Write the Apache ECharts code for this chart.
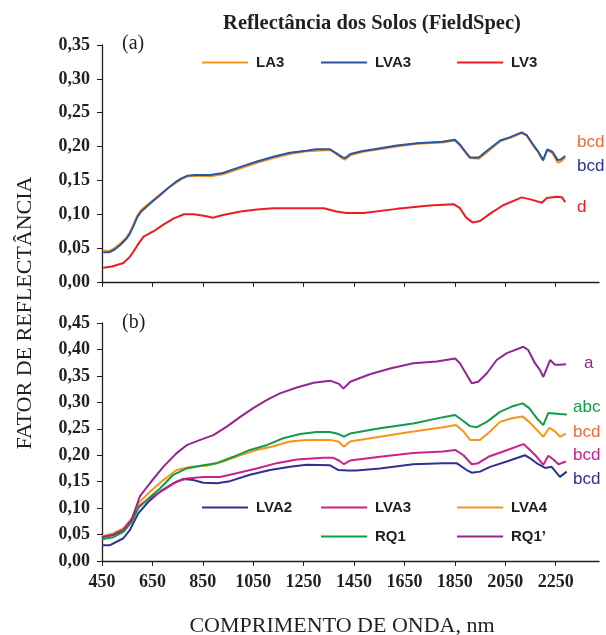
<!DOCTYPE html>
<html lang="pt">
<head>
<meta charset="UTF-8">
<title>Reflectância dos Solos (FieldSpec)</title>
<style>
  html, body { margin: 0; padding: 0; background: #fff; }
  #main { width: 606px; height: 635px; }
</style>
</head>
<body>
<div id="main"></div>
<script src="https://cdn.jsdelivr.net/npm/echarts@6/dist/echarts.min.js"></script>
<script>
// comprimento de onda (nm) x fator de reflectância
var xTicks = [450, 650, 850, 1050, 1250, 1450, 1650, 1850, 2050, 2250];

// painel (a)
var LA3_a = [[455,0.046],[480,0.046],[500,0.050],[520,0.056],[545,0.065],[560,0.073],[575,0.085],[590,0.098],[605,0.106],[620,0.111],[650,0.120],[680,0.129],[710,0.138],[740,0.146],[765,0.152],[790,0.156],[820,0.157],[880,0.156],[930,0.159],[1000,0.168],[1065,0.176],[1130,0.183],[1195,0.189],[1260,0.193],[1300,0.194],[1355,0.195],[1380,0.189],[1405,0.182],[1415,0.181],[1435,0.187],[1480,0.192],[1530,0.195],[1620,0.200],[1700,0.204],[1800,0.206],[1850,0.209],[1870,0.202],[1897,0.189],[1910,0.183],[1945,0.182],[1975,0.191],[2030,0.208],[2070,0.213],[2115,0.220],[2135,0.216],[2160,0.202],[2180,0.192],[2200,0.179],[2205,0.178],[2217,0.195],[2238,0.190],[2258,0.176],[2270,0.178],[2288,0.184]];
var LVA3_a = [[455,0.044],[480,0.044],[500,0.048],[520,0.054],[545,0.063],[560,0.071],[575,0.083],[590,0.096],[605,0.104],[620,0.109],[650,0.119],[680,0.128],[710,0.138],[740,0.147],[765,0.153],[790,0.157],[820,0.158],[880,0.158],[930,0.161],[1000,0.170],[1065,0.178],[1130,0.185],[1195,0.191],[1260,0.194],[1300,0.196],[1355,0.196],[1380,0.190],[1405,0.184],[1415,0.183],[1435,0.189],[1480,0.193],[1530,0.196],[1620,0.2015],[1700,0.205],[1800,0.207],[1850,0.210],[1870,0.203],[1897,0.190],[1910,0.184],[1945,0.184],[1975,0.193],[2030,0.209],[2070,0.214],[2115,0.221],[2135,0.217],[2160,0.203],[2180,0.193],[2200,0.180],[2205,0.179],[2217,0.196],[2238,0.192],[2258,0.180],[2270,0.181],[2288,0.186]];
var LV3_a = [[455,0.021],[490,0.023],[535,0.028],[560,0.037],[575,0.045],[590,0.054],[615,0.067],[655,0.075],[695,0.085],[735,0.094],[775,0.100],[815,0.100],[865,0.097],[890,0.095],[930,0.099],[1000,0.104],[1065,0.107],[1130,0.109],[1330,0.109],[1380,0.104],[1420,0.102],[1490,0.102],[1620,0.108],[1750,0.113],[1845,0.115],[1870,0.109],[1895,0.095],[1920,0.088],[1950,0.090],[1990,0.101],[2040,0.113],[2115,0.125],[2150,0.122],[2195,0.117],[2215,0.124],[2255,0.126],[2275,0.125],[2288,0.118]];

// painel (b)
var LVA2_b = [[450,0.030],[482,0.030],[535,0.043],[561,0.059],[594,0.090],[634,0.112],[680,0.131],[733,0.147],[773,0.155],[812,0.153],[852,0.148],[905,0.147],[958,0.151],[1037,0.163],[1117,0.172],[1196,0.178],[1262,0.182],[1355,0.181],[1388,0.172],[1427,0.171],[1460,0.171],[1553,0.175],[1685,0.183],[1804,0.185],[1857,0.185],[1897,0.172],[1917,0.167],[1950,0.169],[1990,0.178],[2056,0.188],[2128,0.200],[2155,0.192],[2181,0.183],[2208,0.176],[2234,0.178],[2267,0.159],[2294,0.169]];
var LVA3_b = [[450,0.046],[495,0.049],[535,0.059],[568,0.078],[594,0.103],[640,0.119],[693,0.134],[746,0.150],[786,0.156],[852,0.159],[918,0.159],[984,0.166],[1064,0.175],[1143,0.185],[1223,0.192],[1328,0.195],[1368,0.195],[1390,0.190],[1410,0.183],[1434,0.190],[1553,0.197],[1685,0.204],[1804,0.207],[1851,0.210],[1884,0.200],[1917,0.183],[1943,0.185],[1983,0.197],[2042,0.207],[2122,0.221],[2148,0.210],[2175,0.197],[2201,0.182],[2221,0.199],[2241,0.192],[2261,0.183],[2291,0.188]];
var LVA4_b = [[450,0.047],[495,0.052],[535,0.062],[568,0.081],[594,0.109],[640,0.131],[693,0.153],[746,0.172],[799,0.178],[865,0.180],[931,0.188],[998,0.200],[1064,0.210],[1130,0.217],[1195,0.226],[1262,0.229],[1355,0.229],[1388,0.226],[1410,0.216],[1434,0.226],[1553,0.235],[1685,0.245],[1804,0.253],[1855,0.257],[1884,0.245],[1910,0.229],[1950,0.229],[1990,0.245],[2029,0.263],[2076,0.270],[2119,0.273],[2145,0.263],[2175,0.248],[2201,0.235],[2225,0.252],[2247,0.245],[2267,0.235],[2291,0.241]];
var RQ1_b = [[450,0.041],[495,0.045],[535,0.055],[568,0.074],[594,0.100],[634,0.118],[680,0.137],[733,0.163],[786,0.175],[852,0.181],[905,0.185],[971,0.197],[1037,0.210],[1103,0.219],[1169,0.232],[1236,0.240],[1302,0.244],[1355,0.244],[1388,0.240],[1410,0.235],[1434,0.241],[1553,0.251],[1685,0.260],[1804,0.272],[1851,0.276],[1877,0.267],[1910,0.255],[1937,0.253],[1977,0.263],[2029,0.282],[2076,0.292],[2119,0.298],[2145,0.289],[2175,0.270],[2201,0.257],[2221,0.280],[2267,0.278],[2294,0.277]];
var RQ1p_b = [[450,0.045],[490,0.049],[535,0.059],[568,0.078],[600,0.122],[640,0.147],[693,0.178],[746,0.204],[786,0.219],[840,0.229],[892,0.238],[945,0.254],[1000,0.273],[1050,0.289],[1103,0.304],[1156,0.317],[1223,0.328],[1290,0.337],[1355,0.341],[1390,0.335],[1408,0.326],[1435,0.339],[1513,0.353],[1593,0.364],[1685,0.374],[1778,0.377],[1851,0.383],[1870,0.374],[1897,0.352],[1917,0.336],[1943,0.339],[1977,0.355],[2016,0.380],[2056,0.393],[2122,0.405],[2141,0.399],[2168,0.374],[2188,0.361],[2201,0.348],[2228,0.380],[2247,0.371],[2267,0.371],[2291,0.372]];

// letras do teste de médias
var lettersA = ['bcd', 'bcd', 'd'];
var lettersB = ['a', 'abc', 'bcd', 'bcd', 'bcd'];

var SERIF = '"Liberation Serif", "Times New Roman", serif';
var SANS = '"Liberation Sans", Arial, sans-serif';
var INK = '#231f20';

var C = {
  orange: '#f7941d', blue: '#2a55a4', red: '#ed1c24',
  navy: '#2e3192', magenta: '#c9218e', green: '#0f9d4a', purple: '#92278f',
  orangeTxt: '#f26b3a'
};

var myChart = echarts.init(document.getElementById('main'), null, {renderer: 'canvas'});

function fmt(v) { return v.toFixed(2).replace('.', ','); }

function xAxis(gridIndex, withLabels) {
  return {
    type: 'value', gridIndex: gridIndex, min: 450, max: 2422,
    axisLine: {show: true, onZero: false, lineStyle: {color: INK, width: 1.3}},
    axisTick: {show: true, inside: false, length: 5, customValues: xTicks, lineStyle: {color: INK}},
    axisLabel: {
      show: withLabels, customValues: xTicks, margin: 12,
      formatter: function (v) { return String(v); },
      fontFamily: SERIF, fontWeight: 'bold', fontSize: 18, color: INK
    },
    splitLine: {show: false}
  };
}

function yAxis(gridIndex, max) {
  return {
    type: 'value', gridIndex: gridIndex, min: 0, max: max, interval: 0.05,
    axisLine: {show: true, lineStyle: {color: INK, width: 1.3}},
    axisTick: {show: true, inside: false, length: 5, lineStyle: {color: INK}},
    axisLabel: {
      margin: 12, formatter: fmt,
      fontFamily: SERIF, fontWeight: 'bold', fontSize: 18, color: INK
    },
    splitLine: {show: false}
  };
}

function line(name, data, color, idx) {
  return {
    name: name, type: 'line', data: data, xAxisIndex: idx, yAxisIndex: idx,
    showSymbol: false, symbol: 'none', smooth: false, animation: false,
    lineStyle: {color: color, width: 2}, itemStyle: {color: color}
  };
}

function legend(name, left, cy) {
  return {
    data: [name], left: left, top: cy - 8, padding: 0,
    icon: 'rect', itemWidth: 46, itemHeight: 2, itemGap: 0,
    textStyle: {fontFamily: SANS, fontWeight: 'bold', fontSize: 15, color: INK, padding: [0, 0, 0, 3]}
  };
}

function label(text, x, y, color, font) {
  return {
    type: 'text', x: x, y: y,
    style: {text: text, fill: color, font: font, align: 'left', verticalAlign: 'middle'}
  };
}

var noteFont = '17px ' + SANS;

myChart.setOption({
  animation: false,
  grid: [
    {left: 102, top: 45, width: 497, height: 237},
    {left: 102, top: 323, width: 497, height: 238}
  ],
  xAxis: [xAxis(0, false), xAxis(1, true)],
  yAxis: [yAxis(0, 0.35), yAxis(1, 0.45)],
  legend: [
    legend('LA3', 202, 63), legend('LVA3', 321, 63), legend('LV3', 457, 63),
    legend('LVA2', 202, 508), legend('LVA3 ', 321, 508), legend('LVA4', 457, 508),
    legend('RQ1', 321, 537), legend("RQ1’", 457, 537)
  ],
  series: [
    line('LA3', LA3_a, C.orange, 0),
    line('LVA3', LVA3_a, C.blue, 0),
    line('LV3', LV3_a, C.red, 0),
    line('LVA2', LVA2_b, C.navy, 1),
    line('LVA3 ', LVA3_b, C.magenta, 1),
    line('LVA4', LVA4_b, C.orange, 1),
    line('RQ1', RQ1_b, C.green, 1),
    line("RQ1’", RQ1p_b, C.purple, 1)
  ],
  graphic: [
    {
      type: 'text', x: 372, y: 24,
      style: {text: 'Reflectância dos Solos (FieldSpec)', fill: INK,
        font: 'bold 20.5px ' + SERIF, align: 'center', verticalAlign: 'middle'}
    },
    label('(a)', 122, 44, INK, '20px ' + SERIF),
    label('(b)', 122, 323, INK, '20px ' + SERIF),
    {
      type: 'text', x: 25, y: 313, rotation: Math.PI / 2,
      style: {text: 'FATOR DE REFLECTÂNCIA', fill: INK, font: '22px ' + SERIF,
        align: 'center', verticalAlign: 'middle'}
    },
    {
      type: 'text', x: 342, y: 626,
      style: {text: 'COMPRIMENTO DE ONDA, nm', fill: INK, font: '22px ' + SERIF,
        align: 'center', verticalAlign: 'middle'}
    },
    label(lettersA[0], 577, 142, C.orangeTxt, noteFont),
    label(lettersA[1], 577, 166, C.navy, noteFont),
    label(lettersA[2], 577, 207, C.red, noteFont),
    label(lettersB[0], 584, 363, C.purple, noteFont),
    label(lettersB[1], 573, 407, C.green, noteFont),
    label(lettersB[2], 573, 432, C.orangeTxt, noteFont),
    label(lettersB[3], 573, 455, C.magenta, noteFont),
    label(lettersB[4], 573, 479, C.navy, noteFont)
  ]
});
</script>
</body>
</html>
